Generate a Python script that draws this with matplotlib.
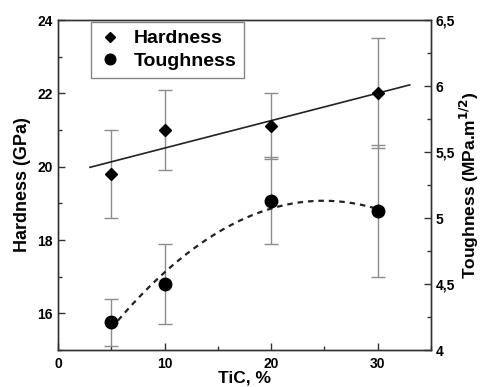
import numpy as np
import matplotlib
matplotlib.use('Agg')
import matplotlib.pyplot as plt
from matplotlib.ticker import MultipleLocator

plt.rcParams['font.family'] = ['Liberation Sans', 'DejaVu Sans']
plt.rcParams['font.weight'] = 'bold'

#------------------------------------------------------------------------------
# data
#------------------------------------------------------------------------------

tic = [5, 10, 20, 30]

hardness     = [19.8, 21.0, 21.1, 22.0]
hardness_err = [1.2, 1.1, 0.9, 1.5]

toughness     = [4.21, 4.50, 5.13, 5.05]
toughness_err = [0.18, 0.30, 0.33, 0.50]

x_ticks = [0, 10, 20, 30]
left_ticks = [16, 18, 20, 22, 24]
right_ticks = [4, 4.5, 5, 5.5, 6, 6.5]
right_labels = ['4', '4,5', '5', '5,5', '6', '6,5']

#------------------------------------------------------------------------------

fig = plt.figure(figsize=(4.84, 3.87), dpi=100)
ax = fig.add_axes([0.1198, 0.0956, 0.7707, 0.8527])
ax2 = ax.twinx()

gray = '#8c8c8c'
spine = '#333333'

# hardness + linear fit
ax.errorbar(tic, hardness, yerr=hardness_err, fmt='none', ecolor=gray,
            elinewidth=1.0, capsize=5, capthick=1.0, zorder=2)
hd, = ax.plot(tic, hardness, 'D', color='black', markersize=6.5, zorder=4)
p = np.polyfit(tic, hardness, 1)
xf = np.linspace(3, 33, 50)
ax.plot(xf, np.polyval(p, xf), '-', color='#222222', linewidth=1.2, zorder=3)

# toughness + quadratic fit
ax2.errorbar(tic, toughness, yerr=toughness_err, fmt='none', ecolor=gray,
             elinewidth=1.0, capsize=5, capthick=1.0, zorder=2)
tg, = ax2.plot(tic, toughness, 'o', color='black', markersize=9, zorder=4)
q = np.polyfit(tic, toughness, 2)
xq = np.linspace(5, 30, 100)
ax2.plot(xq, np.polyval(q, xq), '--', color='#222222', linewidth=1.6,
         dashes=(2.5, 2.2), zorder=3)

ax.set_xlim(0, 35)
ax.set_ylim(15, 24)
ax2.set_ylim(4, 6.5)

ax.set_xticks(x_ticks)
ax.set_yticks(left_ticks)
ax2.set_yticks(right_ticks)
ax2.set_yticklabels(right_labels)
ax.xaxis.set_minor_locator(MultipleLocator(5))
ax.yaxis.set_minor_locator(MultipleLocator(1))
ax2.yaxis.set_minor_locator(MultipleLocator(0.25))

for a in (ax, ax2):
    a.tick_params(which='major', direction='in', length=5, width=1,
                  labelsize=10, color=spine)
    a.tick_params(which='minor', direction='in', length=3, width=1, color=spine)
    for s in a.spines.values():
        s.set_color(spine)
        s.set_linewidth(1.0)
ax.tick_params(axis='x', pad=5)

ax.set_xlabel('TiC, %', fontsize=12.5, fontweight='bold', labelpad=0)
ax.set_ylabel('Hardness (GPa)', fontsize=13, fontweight='bold', labelpad=5)
ax2.set_ylabel('Toughness (MPa.m$^{\\mathbf{1/2}}$)', fontsize=12.5,
               fontweight='bold', labelpad=2)

leg = ax.legend([hd, tg], ['Hardness', 'Toughness'], loc='upper left',
                bbox_to_anchor=(0.088, 0.994), borderaxespad=0,
                frameon=True, fancybox=False,
                edgecolor='#666666', prop={'size': 14, 'weight': 'bold'},
                handletextpad=0.6, borderpad=0.4, labelspacing=0.25,
                handlelength=1.2, markerscale=0.85)
leg.get_frame().set_linewidth(1.0)

plt.savefig('out.png', dpi=100)
